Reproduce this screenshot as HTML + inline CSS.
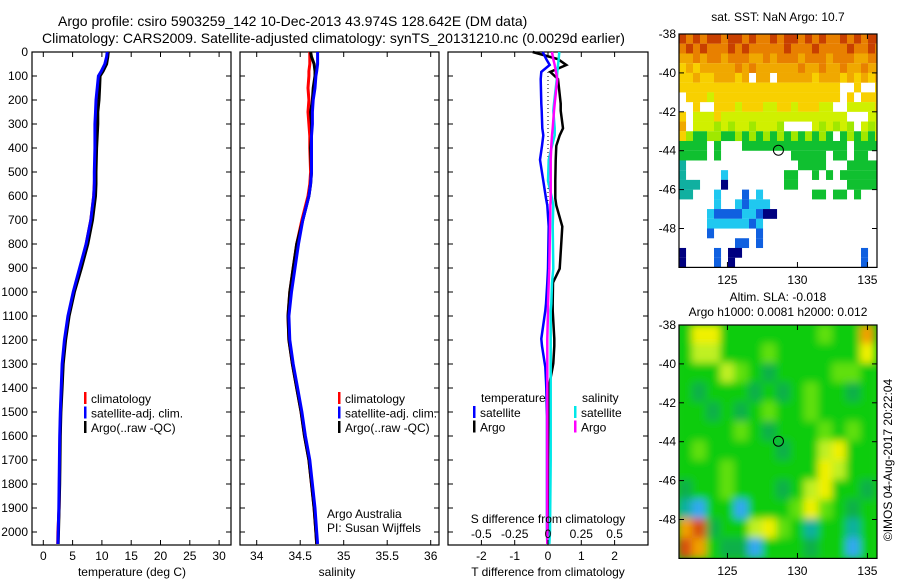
<!DOCTYPE html>
<html><head><meta charset="utf-8"><style>
html,body{margin:0;padding:0;background:#fff}
svg{display:block;font-family:"Liberation Sans",sans-serif}
text{fill:#000}
</style></head><body>
<svg id="c" width="900" height="580" viewBox="0 0 900 580" xmlns="http://www.w3.org/2000/svg">
<defs>
<clipPath id="clipA"><rect x="679" y="325" width="198" height="233"/></clipPath>
<filter id="blur" x="-5%" y="-5%" width="110%" height="110%"><feGaussianBlur stdDeviation="4"/></filter>
</defs>
<text x="58" y="26" font-size="14">Argo profile: csiro 5903259_142 10-Dec-2013 43.974S 128.642E (DM data)</text>
<text x="42" y="43" font-size="14">Climatology: CARS2009. Satellite-adjusted climatology: synTS_20131210.nc (0.0029d earlier)</text>
<g id="p1"></g>
<g id="p2"></g>
<g id="p3"></g>
<g id="m1"></g>
<g id="m2"></g>
<text transform="translate(892,460) rotate(-90)" text-anchor="middle" font-size="12">©IMOS 04-Aug-2017 20:22:04</text>
</svg>
<script>
const depths=[0,20,50,80,100,150,200,250,300,350,400,500,550,600,700,800,900,1000,1100,1200,1300,1400,1500,1600,1700,1800,1900,2000,2050];
const tempClim=[11.0,10.9,10.6,10.0,9.5,9.3,9.1,9.0,9.0,8.9,8.9,8.8,8.7,8.6,8.1,7.3,6.3,5.2,4.3,3.7,3.3,3.1,2.95,2.85,2.8,2.75,2.7,2.5,2.45];
const tempSat=[10.9,10.8,10.5,9.9,9.4,9.2,9.0,8.9,8.8,8.8,8.8,8.7,8.7,8.6,8.1,7.3,6.2,5.1,4.2,3.6,3.2,3.05,2.9,2.8,2.75,2.7,2.65,2.55,2.5];
const tempArgo=[11.1,11.0,10.8,10.2,9.7,9.6,9.5,9.3,9.3,9.2,9.1,9.0,9.0,8.9,8.4,7.6,6.5,5.3,4.4,3.8,3.4,3.2,3.0,2.9,2.85,2.8,2.7,2.6,2.55];
const salClim=[34.61,34.61,34.61,34.60,34.60,34.59,34.60,34.59,34.60,34.61,34.61,34.62,34.61,34.59,34.52,34.46,34.42,34.38,34.36,34.37,34.41,34.46,34.51,34.55,34.60,34.63,34.66,34.68,34.69];
const salSat=[34.70,34.70,34.70,34.69,34.68,34.67,34.65,34.64,34.64,34.63,34.63,34.63,34.62,34.60,34.53,34.48,34.44,34.40,34.37,34.38,34.42,34.47,34.52,34.56,34.61,34.64,34.67,34.69,34.70];
const salArgo=[34.62,34.63,34.66,34.67,34.67,34.65,34.64,34.62,34.63,34.63,34.62,34.63,34.62,34.60,34.53,34.46,34.42,34.38,34.36,34.37,34.41,34.46,34.51,34.55,34.60,34.63,34.66,34.68,34.69];
const diffDepths=[0,30,54,83,113,215,245,318,347,391,449,537,610,639,727,903,961,1049,1078,1195,1225,1297,1312,1371,1400,1517,1700,2000,2050];
const tDiffSat=[-0.16,-0.05,0.05,-0.2,-0.22,-0.2,-0.19,-0.17,-0.14,-0.18,-0.24,-0.14,-0.06,-0.02,0.02,0.0,-0.02,-0.06,-0.08,-0.2,-0.18,-0.1,-0.08,-0.06,-0.05,-0.03,-0.03,-0.03,-0.02];
const tDiffArgo=[-0.46,0.3,0.55,0.07,0.3,0.38,0.38,0.45,0.35,0.25,0.23,0.22,0.22,0.25,0.43,0.35,0.15,0.14,0.14,0.19,0.19,0.16,0.14,0.06,0.03,0.01,0.0,0.0,0.0];
const sDiffSat=[0.085,0.08,0.075,0.07,0.066,0.045,0.04,0.05,0.05,0.03,0.005,0.0,0.03,0.04,0.035,0.04,0.03,0.025,0.02,0.02,0.02,0.02,0.02,0.02,0.02,0.02,0.02,0.015,0.01];
const sDiffArgo=[0.03,0.04,0.05,0.06,0.07,0.05,0.045,0.035,0.03,0.025,0.02,0.02,0.02,0.018,0.015,0.01,0.005,0.0,0.0,-0.005,-0.005,-0.005,-0.005,-0.005,-0.005,-0.005,-0.005,-0.005,-0.005];
const depthTicks=[0,100,200,300,400,500,600,700,800,900,1000,1100,1200,1300,1400,1500,1600,1700,1800,1900,2000];
const tempTicks=[0,5,10,15,20,25,30];
const salTicks=[34,34.5,35,35.5,36];
const tDiffTicks=[-2,-1,0,1,2];
const sDiffTicks=[-0.5,-0.25,0,0.25,0.5];
const sdLabels=["-0.5","-0.25","0","0.25","0.5"];
const latTicks=[-38,-40,-42,-44,-46,-48];
const lonTicks=[125,130,135];
const argoLon=128.642, argoLat=-43.974;
// SST grid: rows lat -38..-50 step 0.5, cols lon from 121.54 step 0.5; '.' = NaN
const sstRows=[
"a9a9aa9aa9a99a9aa9a9a99a9a9aa",
"9a9a999a9a99999a999a9999a99a9",
"88989989998898999899989998899",
"78788888989888888988988988988",
"7787788878.88.888887888787878",
"77777777777777777777777..7..7",
".7776777777777777777777.7.777",
"..7..77767776677677766..66667",
"7.6667666666666666666666...66",
"8.6665656656665....656565.656",
"7544554454545454545454.454546",
"4444.4...444444444444444.4444",
"4444.4..........44444.44.44..",
"3................4444...44444",
"3.....2........44..4.4.444444",
"333...0........44.......44444",
"33...2...1.2.......44.44.4...",
".....2..21222................",
"....2111122100...............",
"....22222212.................",
"....1......1.................",
"........11.1.................",
"0....1.00.................1..",
"0....1.0..................1.."];
const sstColors={"a":"#c84000","9":"#e88000","8":"#f0a800","7":"#f8d000","6":"#d0f000","5":"#a0e800","4":"#10c030","3":"#10b0a0","2":"#20c8f0","1":"#1060e0","0":"#000080"};
const slaRows=[
"36633333334337",
"35533343333336",
"33354323333443",
"32333232343323",
"33232343343333",
"33334323334343",
"34333332335633",
"33343333336533",
"23343332356332",
"10330333464323",
"78233564313313",
"87322033323303"];
const slaColors={"0":"#30a8f0","1":"#10b0a0","2":"#10b048","3":"#10cc10","4":"#60e010","5":"#c0f020","6":"#f0f000","7":"#f0a000","8":"#d85010"};

const NS="http://www.w3.org/2000/svg";
function mk(tag,attrs,parent,txt){const e=document.createElementNS(NS,tag);for(const k in attrs)e.setAttribute(k,attrs[k]);if(txt!==undefined)e.textContent=txt;parent.appendChild(e);return e;}
const Y0=52, DY=0.24, BOT=545;
const yD=d=>Y0+d*DY;

function frame(g,x0,x1,name){
  const r=mk('rect',{x:x0,y:Y0,width:x1-x0,height:BOT-Y0,fill:'none',stroke:'#000','stroke-width':1.2},g);
  
  
  depthTicks.forEach(d=>{
    mk('line',{x1:x0,x2:x0+5,y1:yD(d),y2:yD(d),stroke:'#000'},g);
    mk('line',{x1:x1-5,x2:x1,y1:yD(d),y2:yD(d),stroke:'#000'},g);
  });
}
function line(g,xs,ds,fx,col,name,w){
  const pts=xs.map((v,i)=>fx(v).toFixed(1)+','+yD(ds[i]).toFixed(1)).join(' ');
  const p=mk('polyline',{points:pts,fill:'none',stroke:col,'stroke-width':w||3},g);
  
  
}
function xticks(g,ticks,labels,fx,ylab){
  ticks.forEach((t,i)=>{
    const x=fx(t);
    mk('line',{x1:x,x2:x,y1:BOT,y2:BOT-5,stroke:'#000'},g);
    mk('line',{x1:x,x2:x,y1:Y0,y2:Y0+5,stroke:'#000'},g);
    const tx=mk('text',{x:x,y:ylab,'font-size':12,'text-anchor':'middle'},g,labels[i]);
    
    
  });
}
function legend(g,x,y0,items){
  items.forEach((it,i)=>{
    const y=y0+i*14.5;
    mk('rect',{x:x,y:y-7,width:2.5,height:12,fill:it[0]},g);
    const t=mk('text',{x:x+7,y:y+4,'font-size':12},g,it[1]);
    
    
  });
}
// panel 1
const p1=document.getElementById('p1');
const xT=t=>43.3+t*5.86;
frame(p1,32,231,'temperature-panel');
depthTicks.forEach(d=>{
  const t=mk('text',{x:28,y:yD(d)+4,'font-size':12,'text-anchor':'end'},p1,String(d));
  
  
});
line(p1,tempClim,depths,xT,'#ff0000','temp-climatology-line');
line(p1,tempArgo,depths,xT,'#000000','temp-argo-line');
line(p1,tempSat,depths,xT,'#0000ff','temp-satellite-line');
xticks(p1,tempTicks,tempTicks.map(String),xT,560);
let t1=mk('text',{x:132,y:576,'font-size':12,'text-anchor':'middle'},p1,'temperature (deg C)');


legend(p1,84,399,[['#ff0000','climatology'],['#0000ff','satellite-adj. clim.'],['#000','Argo(..raw -QC)']]);
// panel 2
const p2=document.getElementById('p2');
const xS=s=>256.7+(s-34)*87;
frame(p2,240,439,'salinity-panel');
line(p2,salClim,depths,xS,'#ff0000','sal-climatology-line');
line(p2,salArgo,depths,xS,'#000000','sal-argo-line');
line(p2,salSat,depths,xS,'#0000ff','sal-satellite-line');
xticks(p2,salTicks,salTicks.map(String),xS,560);
let t2=mk('text',{x:337,y:576,'font-size':12,'text-anchor':'middle'},p2,'salinity');


legend(p2,338,399,[['#ff0000','climatology'],['#0000ff','satellite-adj. clim.'],['#000','Argo(..raw -QC)']]);
let a1=mk('text',{x:327,y:518,'font-size':12},p2,'Argo Australia');


let a2=mk('text',{x:327,y:532,'font-size':12},p2,'PI: Susan Wijffels');


// panel 3
const p3=document.getElementById('p3');
const xTD=v=>548+v*33.3;
const xSD=v=>548+v*133.2;
frame(p3,448,648,'difference-panel');
mk('line',{x1:548,x2:548,y1:Y0+20,y2:BOT,stroke:'#000','stroke-dasharray':'1,3'},p3);
line(p3,tDiffArgo,diffDepths,xTD,'#000000','tdiff-argo-line',2.5);
line(p3,tDiffSat,diffDepths,xTD,'#0000ff','tdiff-satellite-line',2.5);
line(p3,sDiffSat,diffDepths,xSD,'#00e8e8','sdiff-satellite-line',2.5);
line(p3,sDiffArgo,diffDepths,xSD,'#ff00ff','sdiff-argo-line',2.5);
xticks(p3,tDiffTicks,tDiffTicks.map(String),xTD,560);
sDiffTicks.forEach((t,i)=>{
  const tx=mk('text',{x:xSD(t),y:538,'font-size':12,'text-anchor':'middle'},p3,sdLabels[i]);
  
  
});
let t3=mk('text',{x:548,y:523,'font-size':12,'text-anchor':'middle'},p3,'S difference from climatology');


let t4=mk('text',{x:548,y:576,'font-size':12,'text-anchor':'middle'},p3,'T difference from climatology');


let lh1=mk('text',{x:481,y:402,'font-size':12},p3,'temperature');


let lh2=mk('text',{x:582,y:402,'font-size':12},p3,'salinity');


legend(p3,473,413,[['#0000ff','satellite'],['#000','Argo']]);
legend(p3,574,413,[['#00e8e8','satellite'],['#ff00ff','Argo']]);

// maps
const MX0=679,MX1=877,LON0=121.54,PXLON=14;
const lonX=l=>MX0+(l-LON0)*PXLON;
function mapFrame(g,top,name){
  const latY=l=>top+(-38-l)*19.45;
  const r=mk('rect',{x:MX0,y:top,width:MX1-MX0,height:233.4,fill:'none',stroke:'#000','stroke-width':1.2},g);
  
  
  latTicks.forEach(l=>{
    const y=latY(l);
    mk('line',{x1:MX0,x2:MX0+5,y1:y,y2:y,stroke:'#000'},g);
    mk('line',{x1:MX1-5,x2:MX1,y1:y,y2:y,stroke:'#000'},g);
    const t=mk('text',{x:MX0-3,y:y+4,'font-size':12,'text-anchor':'end'},g,String(l));
    
    
  });
  lonTicks.forEach(l=>{
    const x=lonX(l);
    mk('line',{x1:x,x2:x,y1:top,y2:top+5,stroke:'#000'},g);
    mk('line',{x1:x,x2:x,y1:top+233.4,y2:top+228,stroke:'#000'},g);
    const t=mk('text',{x:x,y:top+250,'font-size':12,'text-anchor':'middle'},g,String(l));
    
    
  });
  const c=mk('circle',{cx:lonX(argoLon),cy:latY(argoLat),r:5,fill:'none',stroke:'#000'},g);
  
  
  return latY;
}
const m1=document.getElementById('m1');
const M1TOP=34;
const latY1=l=>M1TOP+(-38-l)*19.45;
const cells1=mk('g',{},m1);
sstRows.forEach((row,ri)=>{
  for(let ci=0;ci<29;ci++){
    const ch=row[ci]; if(!ch||ch==='.')continue;
    const lon=LON0+ci*0.5, lat=-38-ri*0.5;
    const x=lonX(lon), y=latY1(lat);
    const w=Math.min(7.05,MX1-x); if(w<=0)continue;
    const r=mk('rect',{x:x,y:y,width:w,height:9.8,fill:sstColors[ch]},cells1);
    
    
  }
});
mapFrame(m1,M1TOP,'sst-map');
let mt1=mk('text',{x:778,y:21,'font-size':12,'text-anchor':'middle'},m1,'sat. SST: NaN Argo: 10.7');



const m2=document.getElementById('m2');
const latY2=l=>325+(-38-l)*19.45;
const cg=mk('g',{'clip-path':'url(#clipA)'},m2);
mk('rect',{x:MX0,y:325,width:198,height:233,fill:'#10cc10'},cg);
const cells2=mk('g',{filter:'url(#blur)'},cg);
slaRows.forEach((row,ri)=>{
  for(let ci=0;ci<row.length;ci++){
    const ch=row[ci];
    const x=lonX(LON0+ci), y=latY2(-38-ri);
    const r=mk('rect',{x:x-1,y:y-1,width:15,height:20.5,fill:slaColors[ch]},cells2);
    
    
  }
});
mapFrame(m2,325,'sla-map');
let mt2=mk('text',{x:778,y:301,'font-size':12,'text-anchor':'middle'},m2,'Altim. SLA: -0.018');


let mt3=mk('text',{x:778,y:316,'font-size':12,'text-anchor':'middle'},m2,'Argo h1000: 0.0081 h2000: 0.012');


</script>
</body></html>
